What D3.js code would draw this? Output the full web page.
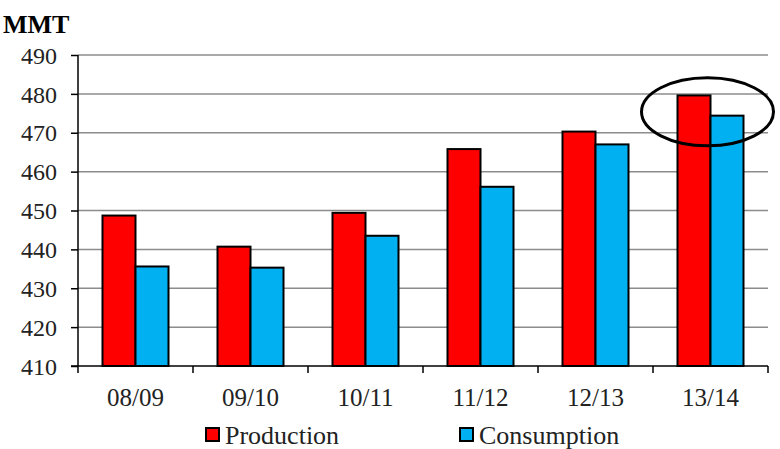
<!DOCTYPE html>
<html><head><meta charset="utf-8">
<script src="https://cdn.jsdelivr.net/npm/d3@7"></script>
<style>body{margin:0;background:#fff} text{font-family:"Liberation Serif",serif !important}</style>
</head><body><svg id="c" width="780" height="449"></svg>
<script>
const categories = ["08/09","09/10","10/11","11/12","12/13","13/14"];
const production = [448.7, 440.7, 449.4, 465.8, 470.3, 479.6];
const consumption = [435.6, 435.3, 443.5, 456.1, 467.0, 474.4];
const yTicks = [410,420,430,440,450,460,470,480,490];
const seriesNames = ["Production","Consumption"];
const colors = ["#ff0000","#00b0f0"];
const FONT = "Liberation Serif";

const svg = d3.select("#c");
const L = 78, R = 768, T = 55, B = 366;
const x = d3.scaleBand().domain(categories).range([L,R]);
const y = d3.scaleLinear().domain([410,490]).range([B,T]);
const inner = d3.scaleBand().domain(seriesNames).range([0,66]);
const off = (x.bandwidth()-66)/2;

// gridlines
svg.append("g").selectAll("line").data(yTicks.slice(1)).join("line")
  .attr("x1",L).attr("x2",R).attr("y1",d=>y(d)).attr("y2",d=>y(d))
  .attr("stroke","#8c8c8c").attr("stroke-width",1.5);

const data = categories.map((c,i)=>({c, vals:[production[i],consumption[i]]}));
const g = svg.append("g").selectAll("g").data(data).join("g")
  .attr("transform",d=>`translate(${x(d.c)+off},0)`);
g.selectAll("rect").data(d=>d.vals.map((v,j)=>({v,j}))).join("rect")
  .attr("x",d=>inner(seriesNames[d.j])).attr("width",inner.bandwidth())
  .attr("y",d=>y(d.v)).attr("height",d=>B-y(d.v))
  .attr("fill",d=>colors[d.j]).attr("stroke","#000").attr("stroke-width",2);

// y axis
const ya = svg.append("g").attr("transform",`translate(${L},0)`)
  .call(d3.axisLeft(y).tickValues(yTicks).tickSize(7).tickPadding(14).tickFormat(d3.format("d")));
ya.attr("font-family",FONT).attr("font-size",24);
ya.select(".domain").attr("stroke","#000").attr("stroke-width",1.5).attr("d",`M0,${B}V${T}`);
ya.selectAll(".tick line").attr("stroke","#000").attr("stroke-width",1.5);
ya.selectAll("text").attr("fill","#222").attr("dy","0.34em")
  .attr("font-family",FONT).attr("font-size",24);

// x axis
const xa = svg.append("g").attr("transform",`translate(0,${B})`);
xa.append("line").attr("x1",L-7).attr("x2",R).attr("y1",0).attr("y2",0).attr("stroke","#000").attr("stroke-width",1.5);
xa.selectAll("line.t").data(d3.range(categories.length+1)).join("line").attr("class","t")
  .attr("x1",i=>L+i*x.step()).attr("x2",i=>L+i*x.step()).attr("y1",0).attr("y2",7)
  .attr("stroke","#000").attr("stroke-width",1.5);
xa.selectAll("text").data(categories).join("text")
  .attr("x",d=>x(d)+x.bandwidth()/2).attr("y",40).attr("text-anchor","middle")
  .attr("font-family",FONT).attr("font-size",25).attr("fill","#222").text(d=>d);

// title
svg.append("text").attr("x",3).attr("y",33)
  .attr("font-family",FONT).attr("font-size",26).attr("font-weight","bold")
  .attr("fill","#000").text("MMT");

// ellipse highlight
const lastC = categories[categories.length-1];
const cx = x(lastC)+x.bandwidth()/2;
svg.append("ellipse").attr("cx",cx-3).attr("cy",y(475.4)).attr("rx",66).attr("ry",34)
  .attr("fill","none").attr("stroke","#000").attr("stroke-width",3);

// legend
const legX = [206,460];
const lg = svg.append("g").selectAll("g").data(seriesNames).join("g")
  .attr("transform",(d,i)=>`translate(${legX[i]},428)`);
lg.append("rect").attr("width",13).attr("height",13).attr("fill",(d,i)=>colors[i]).attr("stroke","#000").attr("stroke-width",2);
lg.append("text").attr("x",19).attr("y",16)
  .attr("font-family",FONT).attr("font-size",26).attr("fill","#222").text(d=>d);
</script></body></html>
